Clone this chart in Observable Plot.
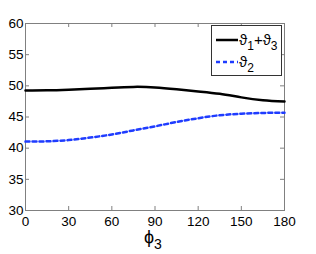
<!DOCTYPE html>
<html><head><meta charset="utf-8">
<script src="https://cdn.jsdelivr.net/npm/d3@7"></script>
<script src="https://cdn.jsdelivr.net/npm/@observablehq/plot@0.6"></script>
<style>
body{margin:0;background:#fff;font-family:"Liberation Sans",Arial,sans-serif;}
#wrap{position:relative;width:316px;height:254px;}
#legend{position:absolute;left:211px;top:25px;width:71px;height:51px;border:1px solid #333;background:#fff;box-sizing:border-box;font-size:15px;}
.row{position:absolute;left:4px;display:flex;align-items:center;}
.lab{margin-left:1px;line-height:1}
sub{font-size:12px;vertical-align:-5px;line-height:0}
#xl{position:absolute;left:144px;top:227px;font-size:18px;}
</style></head><body>
<div id="wrap"><div id="chart"></div>
<div id="legend">
<div class="row" style="top:6px"><svg width="22" height="8"><line x1="0" x2="22" y1="4" y2="4" stroke="#000" stroke-width="2.5"/></svg><span class="lab">ϑ<sub>1</sub>+ϑ<sub>3</sub></span></div>
<div class="row" style="top:28px"><svg width="22" height="8"><line x1="0" x2="22" y1="4" y2="4" stroke="#1f3cff" stroke-width="2.5" stroke-dasharray="4,3"/></svg><span class="lab">ϑ<sub>2</sub></span></div>
</div>
<div id="xl">ϕ<sub style="font-size:14px;vertical-align:-6px">3</sub></div>
</div>
<script>
const phi = [0,15,30,45,60,75,90,105,120,135,150,165,180];
const theta13 = [49.25,49.28,49.38,49.52,49.7,49.83,49.75,49.45,49.1,48.72,48.15,47.7,47.5];
const theta2 = [41.05,41.1,41.3,41.7,42.2,42.85,43.5,44.2,44.8,45.28,45.52,45.65,45.7];
const xTicks = [0,30,60,90,120,150,180];
const yTicks = [30,35,40,45,50,55,60];

const d1 = phi.map((p,i)=>({x:p,y:theta13[i]}));
const d2 = phi.map((p,i)=>({x:p,y:theta2[i]}));
const mt=23, mb=44, H=254, ph=H-mt-mb;
const ml=25, mr=32, W=316, pw=W-ml-mr;
const tk=4, gray="#808080";

const chart = Plot.plot({
  width:W, height:H, marginLeft:ml, marginRight:mr, marginTop:mt, marginBottom:mb,
  style:{fontFamily:"Liberation Sans, Arial, sans-serif", fontSize:"13.5px", color:"#000", background:"#fff"},
  x:{domain:[0,180]}, y:{domain:[30,60]},
  marks:[
    Plot.tickX(xTicks,{x:d=>d, insetTop:ph-tk, stroke:gray}),
    Plot.tickX(xTicks,{x:d=>d, insetBottom:ph-tk, stroke:gray}),
    Plot.tickY(yTicks,{y:d=>d, insetRight:pw-tk, stroke:gray}),
    Plot.tickY(yTicks,{y:d=>d, insetLeft:pw-tk, stroke:gray}),
    Plot.frame({stroke:gray}),
    Plot.axisX(xTicks,{tickSize:0, tickPadding:6, label:null, fill:"#000"}),
    Plot.axisY(yTicks,{tickSize:0, tickPadding:2, label:null, fill:"#000"}),
    Plot.line(d2,{x:"x",y:"y",stroke:"#1f3cff",strokeWidth:2.5,strokeDasharray:"4,3",curve:"natural"}),
    Plot.line(d1,{x:"x",y:"y",stroke:"#000",strokeWidth:2.5,curve:"natural"})
  ]
});
document.getElementById("chart").appendChild(chart);
</script>
</body></html>
